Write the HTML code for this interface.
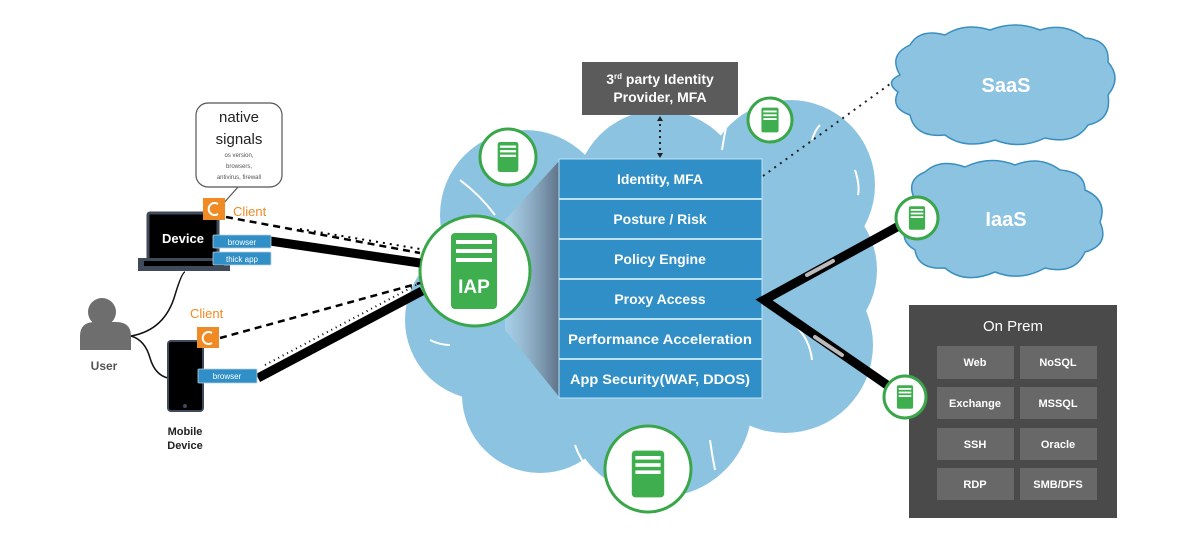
<!DOCTYPE html>
<html><head><meta charset="utf-8"><style>
html,body{margin:0;padding:0;background:#fff;}
svg{display:block;}
text{font-family:"Liberation Sans",sans-serif;}
</style></head><body>
<svg width="1200" height="548" viewBox="0 0 1200 548" xmlns="http://www.w3.org/2000/svg">
<defs>
<linearGradient id="sh" x1="0" x2="1" y1="0" y2="0">
<stop offset="0" stop-color="#b7d8ec" stop-opacity="0.6"/>
<stop offset="1" stop-color="#5d6f86"/>
</linearGradient>
<g id="srv"><rect x="-9" y="-13" width="18" height="26" rx="2" fill="#3fae4f"/><rect x="-7" y="-10" width="14" height="2" fill="#fff"/><rect x="-7" y="-6" width="14" height="2" fill="#fff"/><rect x="-7" y="-2" width="14" height="2" fill="#fff"/></g>
</defs>

<!-- main cloud -->
<g fill="#8cc3e1">
<circle cx="660" cy="195" r="85"/>
<circle cx="525" cy="215" r="85"/>
<circle cx="790" cy="185" r="85"/>
<circle cx="485" cy="320" r="80"/>
<circle cx="540" cy="395" r="78"/>
<circle cx="660" cy="405" r="92"/>
<circle cx="785" cy="345" r="88"/>
<circle cx="795" cy="270" r="82"/>
<circle cx="650" cy="300" r="150"/>
</g>
<g fill="none" stroke="#fff" stroke-width="2">
<path d="M460 180 Q480 195 495 215"/>
<path d="M730 110 Q725 130 722 150"/>
<path d="M820 125 Q815 130 812 140"/>
<path d="M855 170 Q860 185 858 195"/>
<path d="M430 340 Q440 345 450 345"/>
<path d="M575 445 Q580 460 590 470"/>
<path d="M710 440 Q712 455 715 470"/>
<path d="M795 325 Q810 340 812 360"/>
</g>

<!-- shadow -->
<polygon points="505,220 560,160 560,398 505,330" fill="url(#sh)"/>

<!-- stack -->
<g>
<rect x="559" y="159" width="203" height="239" fill="#2f8fc6" stroke="#bfe0f3" stroke-width="1"/>
<g stroke="#bfe0f3" stroke-width="2">
<line x1="559" y1="199" x2="762" y2="199"/><line x1="559" y1="239" x2="762" y2="239"/>
<line x1="559" y1="279" x2="762" y2="279"/><line x1="559" y1="319" x2="762" y2="319"/>
<line x1="559" y1="359" x2="762" y2="359"/>
</g>
<g fill="#fff" font-size="14" font-weight="bold" text-anchor="middle">
<text x="660" y="184">Identity, MFA</text>
<text x="660" y="224">Posture / Risk</text>
<text x="660" y="264">Policy Engine</text>
<text x="660" y="304">Proxy Access</text>
<text x="660" y="344" textLength="184" lengthAdjust="spacingAndGlyphs">Performance Acceleration</text>
<text x="660" y="384" textLength="180" lengthAdjust="spacingAndGlyphs">App Security(WAF, DDOS)</text>
</g>
</g>

<!-- 3rd party -->
<rect x="582" y="62" width="156" height="53" fill="#5b5b5b"/>
<text x="660" y="84" fill="#fff" font-size="14" font-weight="bold" text-anchor="middle">3<tspan font-size="8" dy="-5">rd</tspan><tspan dy="5"> party Identity</tspan></text>
<text x="660" y="102" fill="#fff" font-size="14" font-weight="bold" text-anchor="middle">Provider, MFA</text>
<line x1="660" y1="118" x2="660" y2="156" stroke="#222" stroke-width="2" stroke-dasharray="2,4"/>
<polygon points="657,121 663,121 660,116" fill="#222"/>
<polygon points="657,153 663,153 660,158" fill="#222"/>

<!-- dotted to SaaS -->
<line x1="763" y1="176" x2="890" y2="84" stroke="#222" stroke-width="2" stroke-dasharray="2,5"/>

<!-- server circles in main cloud -->
<circle cx="508" cy="157" r="28" fill="#fff" stroke="#3aa64a" stroke-width="3"/>
<use href="#srv" transform="translate(508,157) scale(1.15)"/>
<circle cx="770" cy="120" r="22" fill="#fff" stroke="#3aa64a" stroke-width="3"/>
<use href="#srv" transform="translate(770,120) scale(0.95)"/>
<circle cx="648" cy="469" r="43" fill="#fff" stroke="#3aa64a" stroke-width="3"/>
<use href="#srv" transform="translate(648,474) scale(1.8)"/>

<!-- IAP -->
<circle cx="475" cy="271" r="55" fill="#fff" stroke="#3aa64a" stroke-width="3"/>
<rect x="451" y="233" width="46" height="76" rx="4" fill="#3fae4f"/>
<rect x="456" y="240" width="36" height="4" fill="#fff"/><rect x="456" y="249" width="36" height="4" fill="#fff"/><rect x="456" y="258" width="36" height="4" fill="#fff"/>
<text x="474" y="293" fill="#fff" font-size="19" font-weight="bold" text-anchor="middle">IAP</text>

<!-- right connectors -->
<g stroke="#000" stroke-width="9" stroke-linecap="round" fill="none">
<polyline points="897,227 764,300 887,385"/>
</g>
<line x1="807" y1="275" x2="833" y2="261" stroke="#bbb" stroke-width="4" stroke-linecap="round"/>
<line x1="815" y1="337" x2="842" y2="355" stroke="#bbb" stroke-width="4" stroke-linecap="round"/>

<!-- SaaS cloud -->
<g fill="#8cc3e1" stroke="#3a8fc0" stroke-width="1.5">
<path d="M900 75 Q888 55 910 45 Q920 28 945 35 Q965 22 990 30 Q1015 20 1040 30 Q1065 22 1085 38 Q1110 40 1108 62 Q1122 78 1108 95 Q1112 120 1088 125 Q1075 145 1045 138 Q1020 150 995 140 Q965 150 945 135 Q915 138 910 115 Q890 108 898 92 Q884 82 900 75 Z"/>
<path d="M915 200 Q905 180 925 172 Q940 158 965 167 Q990 155 1015 165 Q1040 155 1060 170 Q1085 172 1085 190 Q1108 200 1100 222 Q1110 245 1085 252 Q1075 275 1045 268 Q1020 282 995 272 Q965 285 945 268 Q918 270 915 250 Q898 240 908 225 Q898 212 915 200 Z"/>
</g>
<text x="1006" y="92" fill="#fff" font-size="20" font-weight="bold" text-anchor="middle">SaaS</text>
<text x="1006" y="226" fill="#fff" font-size="20" font-weight="bold" text-anchor="middle">IaaS</text>

<!-- On Prem -->
<rect x="909" y="305" width="208" height="213" fill="#4a4a4a"/>
<text x="1013" y="331" fill="#fff" font-size="15" text-anchor="middle">On Prem</text>
<g fill="#686868">
<rect x="937" y="346" width="77" height="33"/><rect x="1020" y="346" width="77" height="33"/>
<rect x="937" y="387" width="77" height="32"/><rect x="1020" y="387" width="77" height="32"/>
<rect x="937" y="428" width="77" height="32"/><rect x="1020" y="428" width="77" height="32"/>
<rect x="937" y="468" width="77" height="32"/><rect x="1020" y="468" width="77" height="32"/>
</g>
<g fill="#fff" font-size="11" font-weight="bold" text-anchor="middle">
<text x="975" y="366">Web</text><text x="1058" y="366">NoSQL</text>
<text x="975" y="407">Exchange</text><text x="1058" y="407">MSSQL</text>
<text x="975" y="448">SSH</text><text x="1058" y="448">Oracle</text>
<text x="975" y="488">RDP</text><text x="1058" y="488">SMB/DFS</text>
</g>

<circle cx="917" cy="218" r="21" fill="#fff" stroke="#3aa64a" stroke-width="3"/>
<use href="#srv" transform="translate(917,218) scale(0.9)"/>
<circle cx="905" cy="397" r="21" fill="#fff" stroke="#3aa64a" stroke-width="3"/>
<use href="#srv" transform="translate(905,397) scale(0.9)"/>

<!-- left connectors -->
<line x1="270" y1="241" x2="420" y2="263" stroke="#000" stroke-width="9"/>
<line x1="226" y1="217" x2="420" y2="253" stroke="#000" stroke-width="2.5" stroke-dasharray="7,5"/>
<line x1="300" y1="229" x2="420" y2="249" stroke="#000" stroke-width="2" stroke-dasharray="2,5"/>
<line x1="258" y1="378" x2="422" y2="291" stroke="#000" stroke-width="9"/>
<line x1="220" y1="338" x2="420" y2="283" stroke="#000" stroke-width="2.5" stroke-dasharray="7,5"/>
<line x1="265" y1="365" x2="420" y2="283" stroke="#000" stroke-width="2" stroke-dasharray="1,4"/>

<!-- bubble -->
<rect x="196" y="103" width="86" height="84" rx="12" fill="#fff" stroke="#555" stroke-width="1.2"/>
<line x1="238" y1="187" x2="222" y2="205" stroke="#555" stroke-width="1.2"/>
<text x="239" y="122" font-size="15" fill="#222" text-anchor="middle">native</text>
<text x="239" y="144" font-size="15" fill="#222" text-anchor="middle">signals</text>
<g font-size="6" fill="#555" text-anchor="middle">
<text x="239" y="157">os version,</text><text x="239" y="168">browsers,</text><text x="239" y="179">antivirus, firewall</text>
</g>

<!-- laptop -->
<rect x="148" y="213" width="70" height="47" rx="2" fill="#000" stroke="#3f4a5a" stroke-width="3"/>
<text x="183" y="243" fill="#fff" font-size="13" font-weight="bold" text-anchor="middle">Device</text>
<rect x="138" y="258" width="92" height="13" fill="#3f4a5a"/>
<rect x="144" y="261" width="80" height="5" fill="#000"/>
<rect x="203" y="198" width="22" height="22" fill="#f08a24"/>
<path d="M218 204 A6 6 0 1 0 218 214" fill="none" stroke="#fff" stroke-width="2"/>
<text x="233" y="216" fill="#f08a24" font-size="13">Client</text>
<rect x="213" y="235" width="58" height="13" rx="1" fill="#2f8fc6" stroke="#bcd" stroke-width="0.8"/>
<text x="242" y="245" fill="#fff" font-size="8" text-anchor="middle">browser</text>
<rect x="213" y="252" width="58" height="13" rx="1" fill="#2f8fc6" stroke="#bcd" stroke-width="0.8"/>
<text x="242" y="262" fill="#fff" font-size="8" text-anchor="middle">thick app</text>

<!-- user -->
<circle cx="102" cy="312" r="14" fill="#6e6e6e"/>
<path d="M80 350 L80 336 Q80 322 95 322 L116 322 Q131 322 131 336 L131 350 Z" fill="#6e6e6e"/>
<text x="104" y="370" fill="#555" font-size="12" font-weight="bold" text-anchor="middle">User</text>
<path d="M131 336 Q165 330 175 295 Q182 272 185 272" fill="none" stroke="#111" stroke-width="1.5"/>
<path d="M131 336 Q145 340 150 358 Q155 375 168 378" fill="none" stroke="#111" stroke-width="1.5"/>

<!-- mobile -->
<rect x="168" y="341" width="35" height="70" rx="3" fill="#000" stroke="#3f4a5a" stroke-width="2"/>
<circle cx="185" cy="406" r="2" fill="#3f4a5a"/>
<rect x="197" y="327" width="22" height="21" fill="#f08a24"/>
<path d="M212 333 A6 6 0 1 0 212 343" fill="none" stroke="#fff" stroke-width="2"/>
<text x="190" y="318" fill="#f08a24" font-size="13">Client</text>
<rect x="198" y="369" width="59" height="14" rx="1" fill="#2f8fc6" stroke="#bcd" stroke-width="0.8"/>
<text x="227" y="379" fill="#fff" font-size="8" text-anchor="middle">browser</text>
<text x="185" y="435" fill="#222" font-size="11" font-weight="bold" text-anchor="middle">Mobile</text>
<text x="185" y="449" fill="#222" font-size="11" font-weight="bold" text-anchor="middle">Device</text>
</svg>
</body></html>
